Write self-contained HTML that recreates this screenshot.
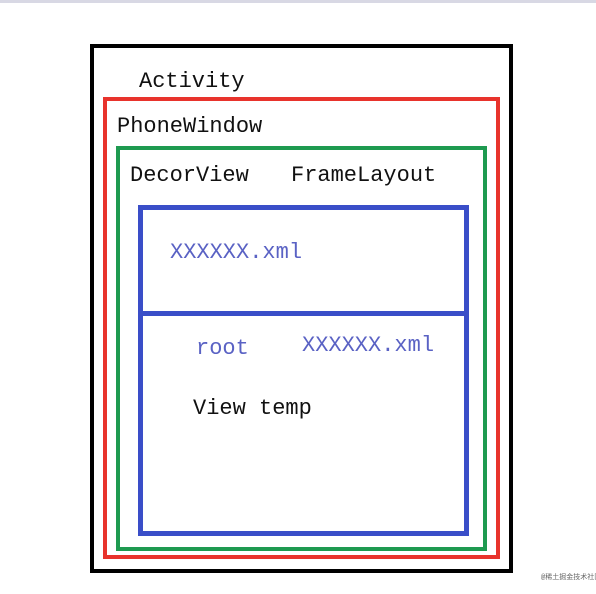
<!DOCTYPE html>
<html><head><meta charset="utf-8"><style>
body{margin:0;width:596px;height:594px;background:#fff;position:relative;overflow:hidden;font-family:"Liberation Mono","Noto Sans CJK SC",monospace;}
.b{position:absolute;box-sizing:border-box;}
.t{position:absolute;font-size:22px;line-height:22px;white-space:nowrap;color:#111;}
.bl{color:#5a62c4;}
</style></head><body>
<div class="b" style="left:0;top:0;width:596px;height:3px;background:#d8d8e4"></div>
<div class="b" style="left:90px;top:44px;width:423px;height:529px;border:4px solid #000"></div>
<div class="b" style="left:103px;top:97px;width:397px;height:462px;border:4px solid #e8332c"></div>
<div class="b" style="left:116px;top:146px;width:371px;height:405px;border:4px solid #1e9a50"></div>
<div class="b" style="left:138px;top:205px;width:331px;height:111px;border:5px solid #3a4ec8"></div>
<div class="b" style="left:138px;top:311px;width:331px;height:225px;border:5px solid #3a4ec8"></div>
<div class="t" style="left:139px;top:71px">Activity</div>
<div class="t" style="left:117px;top:116px">PhoneWindow</div>
<div class="t" style="left:130px;top:165px">DecorView</div>
<div class="t" style="left:291px;top:165px">FrameLayout</div>
<div class="t bl" style="left:170px;top:242px">XXXXXX.xml</div>
<div class="t bl" style="left:196px;top:338px">root</div>
<div class="t bl" style="left:302px;top:335px">XXXXXX.xml</div>
<div class="t" style="left:193px;top:398px">View temp</div>
<div class="t" style="left:541px;top:574px;font-size:7px;line-height:8px;color:#666">@稀土掘金技术社区</div>
</body></html>
